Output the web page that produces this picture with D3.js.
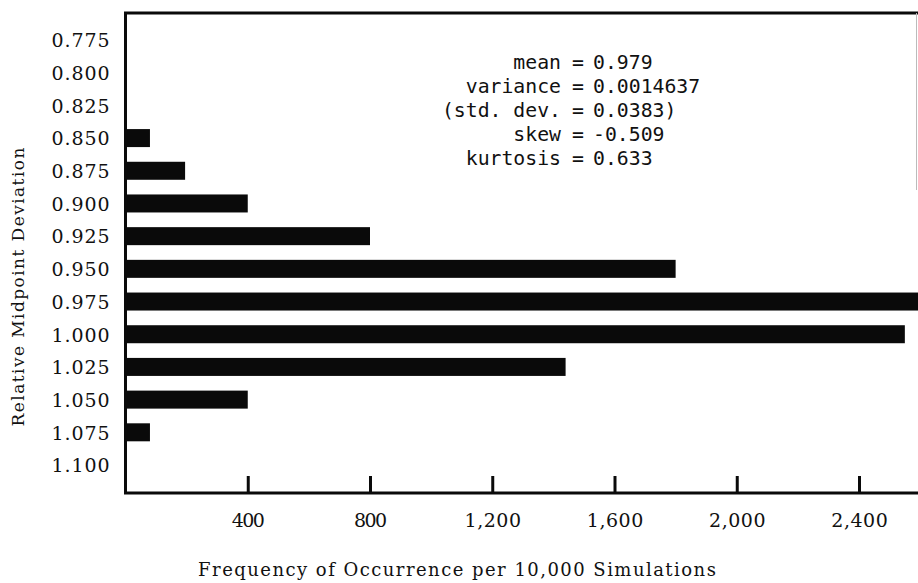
<!DOCTYPE html>
<html>
<head>
<meta charset="utf-8">
<script src="https://cdn.jsdelivr.net/npm/d3@7"></script>
<style>
  html, body { margin: 0; padding: 0; background: #fff; }
  svg { display: block; }
  .type { font-family: "DejaVu Serif", "Liberation Serif", serif; fill: #111; }
  .stats { font-family: "DejaVu Sans Mono", monospace; fill: #111; }
</style>
</head>
<body>
<svg id="chart" width="918" height="583"></svg>
<script>
// Relative midpoint deviation bins (top to bottom)
const categories = ["0.775", "0.800", "0.825", "0.850", "0.875", "0.900", "0.925",
                    "0.950", "0.975", "1.000", "1.025", "1.050", "1.075", "1.100"];
// Frequency of occurrence per 10,000 simulations for each bin
const frequencies = [0, 0, 0, 80, 195, 400, 800, 1800, 2680, 2550, 1440, 400, 80, 0];
// Frequency axis ticks
const xTicks = [400, 800, 1200, 1600, 2000, 2400];
// Summary statistics block
const statNames = ["mean", "variance", "(std. dev.", "skew", "kurtosis"];
const statValues = ["0.979", "0.0014637", "0.0383)", "-0.509", "0.633"];

const svg = d3.select("#chart");
const W = 918, H = 583;
const plotLeft = 125.5, plotRight = 918, plotTop = 13, plotBottom = 493;

// typewriter-style fixed pitch: stretch each string to n character cells
const pitch = (sel, cell) => sel.each(function () {
  const n = this.textContent.length;
  d3.select(this).attr("textLength", n * cell - 2).attr("lengthAdjust", "spacing");
});

const x = d3.scaleLinear().domain([0, 2400]).range([plotLeft, 859]);
const y = d3.scalePoint().domain(categories).range([40, 465]);
const barH = 18;

// Bars (clipped to the right edge of the page)
svg.append("g")
  .selectAll("rect")
  .data(categories.map((c, i) => ({ c, v: frequencies[i] })).filter(d => d.v > 0))
  .join("rect")
  .attr("x", x(0))
  .attr("y", d => y(d.c) - barH / 2)
  .attr("width", d => Math.min(x(d.v), W) - x(0))
  .attr("height", barH)
  .attr("fill", "#0a0a0a");

// Frame: top line, left axis, bottom axis, faint right edge
const frame = svg.append("g").attr("stroke", "#0a0a0a").attr("fill", "none");
frame.append("line").attr("x1", plotLeft - 1.5).attr("x2", plotRight).attr("y1", plotTop).attr("y2", plotTop).attr("stroke-width", 3);
frame.append("line").attr("x1", plotLeft).attr("x2", plotLeft).attr("y1", plotTop).attr("y2", plotBottom).attr("stroke-width", 3);
frame.append("line").attr("x1", plotLeft - 1.5).attr("x2", plotRight).attr("y1", plotBottom).attr("y2", plotBottom).attr("stroke-width", 3);
frame.append("line").attr("x1", 916.5).attr("x2", 916.5).attr("y1", plotTop).attr("y2", 190)
  .attr("stroke-width", 1).attr("stroke", "#bbb");

// X axis: inward ticks above the baseline, labels below
const xAxis = d3.axisBottom(x).tickValues(xTicks).tickSize(-17).tickPadding(22)
  .tickFormat(d3.format(","));
const gx = svg.append("g").attr("transform", `translate(0,${plotBottom})`).call(xAxis);
gx.select(".domain").remove();
gx.selectAll(".tick line").attr("stroke", "#0a0a0a").attr("stroke-width", 3);
gx.selectAll(".tick text").attr("class", "type").attr("font-size", 19)
  .attr("dy", "0.71em").attr("y", 21).call(pitch, 11.7);

// Y axis labels
const yAxis = d3.axisLeft(y).tickSize(0).tickPadding(16);
const gy = svg.append("g").attr("transform", `translate(${plotLeft},0)`).call(yAxis);
gy.select(".domain").remove();
gy.selectAll(".tick text").attr("class", "type").attr("font-size", 19)
  .attr("dy", "0.36em").call(pitch, 12);

// Axis titles
svg.append("text").attr("class", "type")
  .attr("x", 457).attr("y", 576)
  .attr("text-anchor", "middle").attr("font-size", 18)
  .text("Frequency of Occurrence per 10,000 Simulations").call(pitch, 11.3);

svg.append("text").attr("class", "type")
  .attr("transform", "translate(24,287) rotate(-90)")
  .attr("text-anchor", "middle").attr("font-size", 17)
  .text("Relative Midpoint Deviation").call(pitch, 10.4);

// Statistics block, aligned on the equals signs
const stats = svg.append("g").attr("class", "stats").attr("font-size", 19.8);
statNames.forEach((name, i) => {
  const yy = 69 + i * 24;
  stats.append("text").attr("x", 561).attr("y", yy).attr("text-anchor", "end").text(name);
  stats.append("text").attr("x", 578).attr("y", yy).attr("text-anchor", "middle").text("=");
  stats.append("text").attr("x", 593).attr("y", yy).attr("text-anchor", "start").text(statValues[i]);
});
</script>
</body>
</html>
